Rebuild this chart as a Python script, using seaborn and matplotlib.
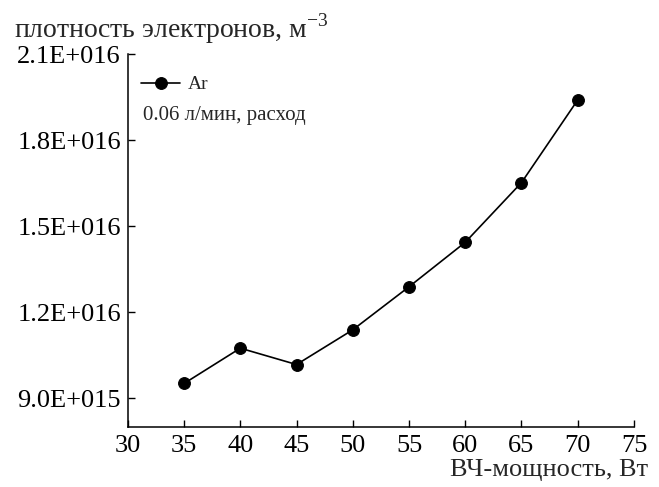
import matplotlib
matplotlib.use("Agg")
import matplotlib.pyplot as plt
import seaborn as sns
import pandas as pd

power = [35, 40, 45, 50, 55, 60, 65, 70]
density = [9.52e15, 1.075e16, 1.018e16, 1.139e16, 1.289e16, 1.444e16, 1.652e16, 1.94e16]
series_label = "Ar"
note = "0.06 л/мин, расход"
xticks = [30, 35, 40, 45, 50, 55, 60, 65, 70, 75]
yticks = [9.0e15, 1.2e16, 1.5e16, 1.8e16, 2.1e16]
ytick_labels = ["9.0E+015", "1.2E+016", "1.5E+016", "1.8E+016", "2.1E+016"]
xlabel = "ВЧ-мощность, Вт"
ylabel = "плотность электронов, м$^{-3}$"

sns.set_style("ticks")
plt.rcParams["font.family"] = ["Liberation Serif", "DejaVu Serif"]
plt.rcParams["mathtext.fontset"] = "custom"
plt.rcParams["mathtext.rm"] = "Liberation Serif"

df = pd.DataFrame({"power": power, "density": density})

fig = plt.figure(figsize=(6.59, 4.87), dpi=100)
ax = fig.add_axes([0.194, 0.123, 0.768, 0.766])
sns.lineplot(data=df, x="power", y="density", marker="o", color="black",
             markersize=8.5, linewidth=1.2, markeredgecolor="black",
             label=series_label, ax=ax)

ax.set_xlim(30, 75)
ax.set_ylim(8.0e15, 2.1e16)
ax.set_xticks(xticks)
ax.set_yticks(yticks)
ax.set_yticklabels(ytick_labels)
ax.tick_params(direction="in", length=5, width=1, labelsize=19, colors="black")
ax.tick_params(axis="x", pad=6)
ax.tick_params(axis="y", pad=5)
for s in ["top", "right"]:
    ax.spines[s].set_visible(False)
for s in ["left", "bottom"]:
    ax.spines[s].set_linewidth(1.1)
    ax.spines[s].set_color("black")

ax.set_xlabel("")
ax.set_ylabel("")
fig.text(0.984, 0.012, xlabel, ha="right", va="bottom", fontsize=19)
fig.text(0.022, 0.906, ylabel, ha="left", va="bottom", fontsize=20)

leg = ax.legend(loc="upper left", frameon=False, fontsize=14,
                bbox_to_anchor=(0.0, 0.978), handlelength=2.0,
                handletextpad=0.4, borderaxespad=0.3)
ax.text(0.03, 0.836, note, transform=ax.transAxes, fontsize=15,
        ha="left", va="center")

fig.savefig("out.png", dpi=100)
